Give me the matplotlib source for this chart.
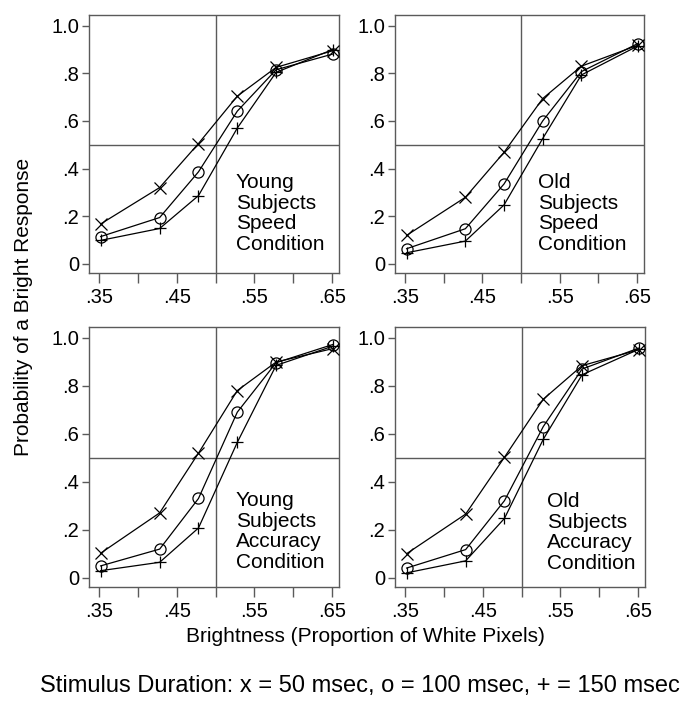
import matplotlib.pyplot as plt
import numpy as np

plt.rcParams['font.family'] = ['Liberation Sans', 'DejaVu Sans']

# brightness levels (proportion of white pixels)
brightness = [0.352, 0.428, 0.478, 0.528, 0.578, 0.651]

# probability of a "bright" response, per stimulus duration (50 / 100 / 150 msec)
young_speed_50 = [0.167, 0.320, 0.505, 0.704, 0.825, 0.895]
young_speed_100 = [0.114, 0.194, 0.386, 0.641, 0.815, 0.881]
young_speed_150 = [0.098, 0.148, 0.286, 0.570, 0.804, 0.900]

old_speed_50 = [0.119, 0.279, 0.468, 0.694, 0.830, 0.918]
old_speed_100 = [0.063, 0.147, 0.335, 0.600, 0.807, 0.925]
old_speed_150 = [0.046, 0.095, 0.247, 0.526, 0.793, 0.915]

young_acc_50 = [0.102, 0.270, 0.519, 0.780, 0.899, 0.955]
young_acc_100 = [0.049, 0.119, 0.330, 0.690, 0.896, 0.972]
young_acc_150 = [0.029, 0.064, 0.207, 0.564, 0.885, 0.965]

old_acc_50 = [0.100, 0.265, 0.502, 0.744, 0.884, 0.950]
old_acc_100 = [0.040, 0.117, 0.321, 0.630, 0.870, 0.957]
old_acc_150 = [0.020, 0.070, 0.247, 0.577, 0.846, 0.952]

panel_labels = ["Young\nSubjects\nSpeed\nCondition",
                "Old\nSubjects\nSpeed\nCondition",
                "Young\nSubjects\nAccuracy\nCondition",
                "Old\nSubjects\nAccuracy\nCondition"]

xticks_major = [0.35, 0.45, 0.55, 0.65]
xticks_minor = [0.40, 0.50, 0.60]
xtick_labels = [".35", ".45", ".55", ".65"]
yticks = [0, 0.2, 0.4, 0.6, 0.8, 1.0]
ytick_labels = ["0", ".2", ".4", ".6", ".8", "1.0"]

panels = [
    (young_speed_50, young_speed_100, young_speed_150),
    (old_speed_50, old_speed_100, old_speed_150),
    (young_acc_50, young_acc_100, young_acc_150),
    (old_acc_50, old_acc_100, old_acc_150),
]

W, H = 690, 708
fig = plt.figure(figsize=(W / 100, H / 100), dpi=100)

# panel boxes in pixels: left, top, right, bottom
boxes = [(89, 15, 339, 273), (395, 15, 644, 273),
         (89, 327, 339, 587), (395, 327, 645, 587)]
text_pos = [(0.588, 0.388), (0.573, 0.388), (0.588, 0.37), (0.608, 0.366)]

grey = '#5a5a5a'
for i, (l, t, r, b) in enumerate(boxes):
    ax = fig.add_axes([l / W, 1 - b / H, (r - l) / W, (b - t) / H])
    s50, s100, s150 = panels[i]
    ax.axvline(0.5, color=grey, lw=1.0, zorder=1)
    ax.axhline(0.5, color=grey, lw=1.0, zorder=1)
    ax.plot(brightness, s50, color='black', lw=0.9, marker='x', ms=8,
            mew=0.9, zorder=3)
    ax.plot(brightness, s100, color='black', lw=0.9, marker='o', ms=8,
            mfc='none', mew=0.9, zorder=3)
    ax.plot(brightness, s150, color='black', lw=0.9, marker='+', ms=9,
            mew=0.9, zorder=3)

    ax.set_xlim(0.337, 0.659)
    ax.set_ylim(-0.039, 1.045)
    ax.set_xticks(xticks_major)
    ax.set_xticklabels(xtick_labels)
    ax.set_xticks(xticks_minor, minor=True)
    ax.set_yticks(yticks)
    ax.set_yticklabels(ytick_labels)
    ax.tick_params(axis='both', which='both', direction='out', color=grey,
                   labelsize=14.5, width=1.0)
    ax.tick_params(axis='x', which='both', length=7, pad=4)
    ax.tick_params(axis='y', length=5, pad=2)
    for sp in ax.spines.values():
        sp.set_color(grey)
        sp.set_linewidth(1.0)

    ax.text(text_pos[i][0], text_pos[i][1], panel_labels[i], transform=ax.transAxes,
            ha='left', va='top', fontsize=15, linespacing=1.12)

fig.text(24 / W, 1 - 307 / H, "Probability of a Bright Response", rotation=90,
         ha='center', va='center', fontsize=15)
fig.text(365 / W, 1 - 636 / H, "Brightness (Proportion of White Pixels)",
         ha='center', va='center', fontsize=15)
fig.text(360 / W, 1 - 686 / H,
         "Stimulus Duration: x = 50 msec, o = 100 msec, + = 150 msec",
         ha='center', va='center', fontsize=17)

fig.savefig("out.png", dpi=100)
